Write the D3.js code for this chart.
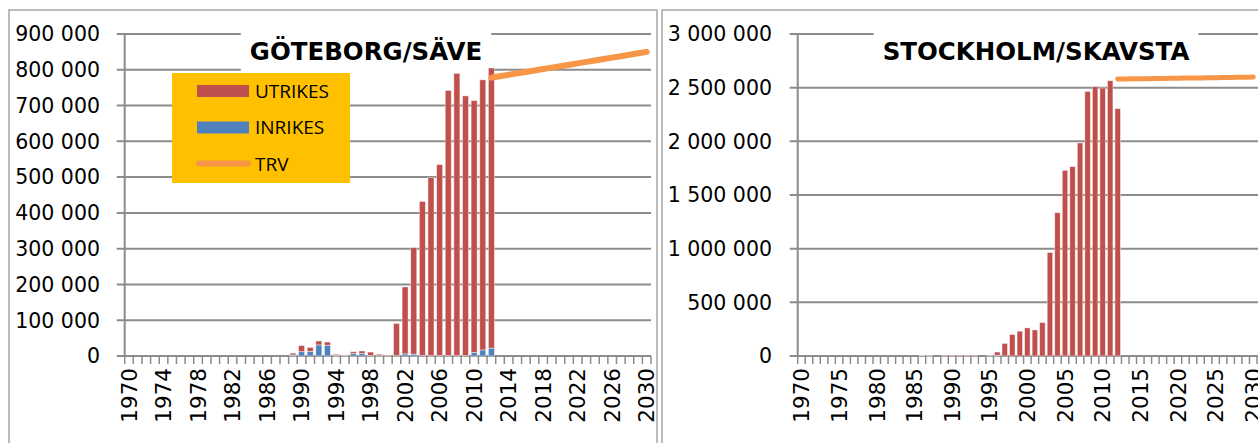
<!DOCTYPE html>
<html><head><meta charset="utf-8">
<script src="https://cdn.jsdelivr.net/npm/d3@7"></script>
<style>body{margin:0;background:#fff;overflow:hidden}</style>
</head><body>
<svg id="c" width="1258" height="443"></svg>
<script>
// ---------- data ----------
const years = [1970,1971,1972,1973,1974,1975,1976,1977,1978,1979,1980,1981,1982,1983,1984,1985,1986,1987,1988,1989,
  1990,1991,1992,1993,1994,1995,1996,1997,1998,1999,2000,2001,2002,2003,2004,2005,2006,2007,2008,2009,
  2010,2011,2012,2013,2014,2015,2016,2017,2018,2019,2020,2021,2022,2023,2024,2025,2026,2027,2028,2029,2030];
const gotTickLabels = ["1970","1974","1978","1982","1986","1990","1994","1998","2002","2006","2010","2014","2018","2022","2026","2030"];
const skaTickLabels = ["1970","1975","1980","1985","1990","1995","2000","2005","2010","2015","2020","2025","2030"];
const gotYTicks = [0,100000,200000,300000,400000,500000,600000,700000,800000,900000];
const skaYTicks = [0,500000,1000000,1500000,2000000,2500000,3000000];
const seriesNames = ["UTRIKES","INRIKES","TRV"];

// Göteborg/Säve
const gotYears   = [1989,1990,1991,1992,1993,1994,1995,1996,1997,1998,1999,2000,2001,2002,2003,2004,2005,2006,2007,2008,2009,2010,2011,2012];
const gotInrikes = [3000,12000,13000,31000,30000,2000,2000,7000,7000,1000,1000,0,1000,6000,5000,1000,1000,1000,1000,1000,1000,10000,17000,22000];
const gotUtrikes = [5000,17000,11000,11000,9000,3000,1000,5000,7000,10000,4000,2000,90000,187000,298000,431000,498000,534000,741000,789000,726000,704000,755000,783000];
const gotTrvYears = [2012,2013,2014,2015,2016,2017,2018,2019,2020,2021,2022,2023,2024,2025,2026,2027,2028,2029,2030];
const gotTrv      = [778000,782000,786000,790000,794000,798000,802000,806000,810000,814000,818000,822000,826000,830000,834000,838000,842000,846000,850000];

// Stockholm/Skavsta
const skaYears   = [1986,1987,1989,1990,1991,1992,1993,1995,1996,1997,1998,1999,2000,2001,2002,2003,2004,2005,2006,2007,2008,2009,2010,2011,2012];
const skaInrikes = [5000,1000,0,0,0,0,0,0,6000,0,0,0,0,0,0,0,0,0,0,0,0,0,0,0,0];
const skaUtrikes = [2000,4000,6000,6000,6000,6000,6000,4000,31000,117000,200000,231000,262000,243000,312000,965000,1335000,1730000,1765000,1985000,2465000,2510000,2497000,2565000,2305000];
const skaTrvYears = [2012,2013,2014,2015,2016,2017,2018,2019,2020,2021,2022,2023,2024,2025,2026,2027,2028,2029,2030];
const skaTrv      = [2580000,2581000,2582000,2583000,2584000,2585000,2586000,2587000,2588000,2589000,2590000,2591000,2592000,2593000,2594000,2595000,2596000,2598000,2600000];

// ---------- styles ----------
const RED = "#C0504D", BLUE = "#4F81BD", ORANGE = "#F79646", GRID = "#8c8c8c";
const NUM_FONT = "'DejaVu Sans', sans-serif";
const fmt = d3.formatLocale({decimal: ",", thousands: "\u00a0", grouping: [3], currency: ["", ""]}).format(",d");

const svg = d3.select("#c");

function drawChart(o) {
  const g = svg.append("g");
  g.append("rect").attr("x", o.frameX).attr("y", 10).attr("width", o.frameW).attr("height", 445)
    .attr("fill", "#fff").attr("stroke", "#a6a6a6").attr("stroke-width", 1.5);

  const x = d3.scaleBand().domain(years).range([o.x0, o.x1]).paddingInner(o.pad).paddingOuter(o.pad / 2);
  const y = d3.scaleLinear().domain([0, o.yMax]).range([356, 34]);

  g.append("g").selectAll("line").data(o.yTicks).join("line")
    .attr("x1", o.x0 - 8).attr("x2", o.gridEnd)
    .attr("y1", d => y(d)).attr("y2", d => y(d))
    .attr("stroke", GRID).attr("stroke-width", 2);

  g.append("line").attr("x1", o.x0).attr("x2", o.x0).attr("y1", 34).attr("y2", 356)
    .attr("stroke", GRID).attr("stroke-width", 2);

  g.append("g").selectAll("text").data(o.yTicks).join("text")
    .attr("x", o.labelRight).attr("y", d => y(d)).attr("dy", "0.36em")
    .attr("text-anchor", "end").attr("font-family", NUM_FONT).attr("font-size", 20.5)
    .attr("fill", "#000").text(d => fmt(d));

  const step = x.step();
  const bounds = years.map((d, i) => o.x0 + i * step).concat([o.x1]);
  g.append("g").selectAll("line").data(bounds).join("line")
    .attr("x1", d => d).attr("x2", d => d).attr("y1", 356).attr("y2", 364)
    .attr("stroke", GRID).attr("stroke-width", 1.5);

  g.append("g").selectAll("text").data(o.tickLabels).join("text")
    .attr("transform", d => `translate(${x(+d) + x.bandwidth() / 2},368) rotate(-90)`)
    .attr("dy", "0.36em").attr("text-anchor", "end")
    .attr("font-family", NUM_FONT).attr("font-size", 21.5).attr("fill", "#000").text(d => d);

  const tg = g.append("g");
  const box = tg.append("rect").attr("fill", "#fff");
  const t = tg.append("text").attr("x", o.titleCx).attr("y", 60).attr("text-anchor", "middle")
    .attr("font-family", "'DejaVu Sans', sans-serif").attr("font-weight", "bold").attr("font-size", 24.5)
    .attr("fill", "#000").text(o.title);
  const bb = t.node().getBBox();
  box.attr("x", bb.x - 9).attr("y", 24).attr("width", bb.width + 18).attr("height", 48);

  const table = o.barYears.map((yr, i) => ({year: yr, INRIKES: o.inrikes[i], UTRIKES: o.utrikes[i]}));
  const stack = d3.stack().keys(["INRIKES", "UTRIKES"])(table);
  const colors = {INRIKES: BLUE, UTRIKES: RED};
  g.append("g").selectAll("g").data(stack).join("g").attr("fill", s => colors[s.key])
    .selectAll("rect").data(s => s).join("rect")
    .attr("x", d => x(d.data.year)).attr("width", x.bandwidth())
    .attr("y", d => y(d[1])).attr("height", d => Math.max(0, y(d[0]) - y(d[1])))
    .attr("stroke", "rgba(255,255,255,0.55)").attr("stroke-width", 0.8);

  const line = d3.line().x((d, i) => x(o.trvYears[i]) + x.bandwidth() / 2).y(d => y(d));
  g.append("path").datum(o.trv).attr("d", line).attr("fill", "none")
    .attr("stroke", ORANGE).attr("stroke-width", o.trvWidth).attr("stroke-linecap", "round");

  return g;
}

drawChart({
  frameX: 9, frameW: 648, x0: 124.7, x1: 651, gridEnd: 651, pad: 0.3,
  yMax: 900000, yTicks: gotYTicks, labelRight: 100, tickLabels: gotTickLabels,
  title: "GÖTEBORG/SÄVE", titleCx: 366,
  barYears: gotYears, inrikes: gotInrikes, utrikes: gotUtrikes,
  trvYears: gotTrvYears, trv: gotTrv, trvWidth: 6
});

drawChart({
  frameX: 662, frameW: 620, x0: 797.7, x1: 1257, gridEnd: 1258, pad: 0.27,
  yMax: 3000000, yTicks: skaYTicks, labelRight: 772, tickLabels: skaTickLabels,
  title: "STOCKHOLM/SKAVSTA", titleCx: 1036,
  barYears: skaYears, inrikes: skaInrikes, utrikes: skaUtrikes,
  trvYears: skaTrvYears, trv: skaTrv, trvWidth: 5
});

// legend (Göteborg chart)
const lg = svg.append("g");
lg.append("rect").attr("x", 172).attr("y", 73).attr("width", 178).attr("height", 110).attr("fill", "#FFC000");
const legendColors = {UTRIKES: RED, INRIKES: BLUE, TRV: ORANGE};
seriesNames.forEach((name, i) => {
  const cy = 91 + i * 36.5;
  if (name === "TRV") {
    lg.append("line").attr("x1", 199).attr("x2", 248).attr("y1", cy - 0.5).attr("y2", cy - 0.5)
      .attr("stroke", ORANGE).attr("stroke-width", 6).attr("stroke-linecap", "round");
  } else {
    lg.append("rect").attr("x", 197).attr("y", cy - 6).attr("width", 52).attr("height", 12).attr("fill", legendColors[name]);
  }
  lg.append("text").attr("x", 255).attr("y", cy).attr("dy", "0.36em")
    .attr("font-family", "'Open Sans', sans-serif").attr("font-size", 19).attr("fill", "#000").text(name);
});
</script>
</body></html>
